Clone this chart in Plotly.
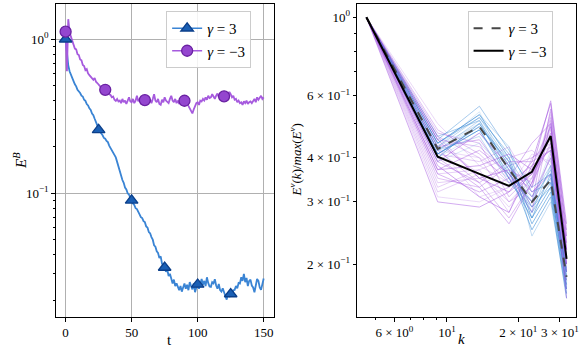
import plotly.graph_objects as go

# ---------------- Left panel data ----------------
t_vals = list(range(0, 151))

eb_gamma_pos = [
    1.0, 0.78, 0.68, 0.62, 0.585, 0.55, 0.535, 0.51, 0.495, 0.47,
    0.462, 0.448, 0.43, 0.425, 0.405, 0.398, 0.38, 0.372, 0.356, 0.348,
    0.33, 0.322, 0.305, 0.292, 0.276, 0.258, 0.252, 0.243, 0.238, 0.229,
    0.226, 0.219, 0.215, 0.204, 0.197, 0.189, 0.186, 0.179, 0.171, 0.16,
    0.149, 0.137, 0.131, 0.122, 0.117, 0.109, 0.106, 0.1, 0.098, 0.093,
    0.09, 0.086, 0.084, 0.08, 0.079, 0.075, 0.073, 0.07, 0.069, 0.066,
    0.065, 0.061, 0.06, 0.056, 0.055, 0.052, 0.05, 0.046, 0.045, 0.042,
    0.041, 0.038, 0.039, 0.035, 0.034, 0.033, 0.031, 0.032, 0.029, 0.03,
    0.028, 0.026, 0.0275, 0.025, 0.026, 0.0245, 0.0235, 0.025, 0.023, 0.0245,
    0.026, 0.024, 0.0255, 0.0235, 0.0265, 0.025, 0.0238, 0.026, 0.0228, 0.0245,
    0.0256, 0.024, 0.0262, 0.0278, 0.0255, 0.027, 0.025, 0.0285, 0.0262, 0.0248,
    0.0247, 0.0265, 0.026, 0.0277, 0.0252, 0.024, 0.0258, 0.0235, 0.023, 0.0242,
    0.0228, 0.0215, 0.0204, 0.0225, 0.0212, 0.0222, 0.0215, 0.0235, 0.0236, 0.025,
    0.0242, 0.0262, 0.026, 0.0285, 0.027, 0.03, 0.0265, 0.0282, 0.025, 0.027,
    0.0275, 0.0252, 0.0245, 0.0228, 0.026, 0.0278, 0.027, 0.0245, 0.0236, 0.026,
    0.028,
]

eb_gamma_neg = [
    1.12, 0.62, 1.35, 1.12, 1.04, 0.97, 0.93, 0.87, 0.86, 0.8,
    0.79, 0.74, 0.73, 0.68, 0.67, 0.63, 0.64, 0.6, 0.585, 0.57,
    0.56, 0.545, 0.56, 0.53, 0.52, 0.505, 0.5, 0.485, 0.48, 0.465,
    0.47, 0.46, 0.445, 0.44, 0.435, 0.42, 0.425, 0.405, 0.398, 0.41,
    0.395, 0.4, 0.385, 0.41, 0.39, 0.4, 0.38, 0.405, 0.42, 0.395,
    0.39, 0.41, 0.385, 0.4, 0.43, 0.395, 0.41, 0.38, 0.4, 0.415,
    0.403, 0.39, 0.42, 0.395, 0.405, 0.385, 0.41, 0.44, 0.4, 0.39,
    0.41, 0.38, 0.375, 0.405, 0.39, 0.42, 0.4, 0.395, 0.385, 0.41,
    0.43, 0.4, 0.39, 0.41, 0.385, 0.4, 0.38, 0.39, 0.37, 0.395,
    0.399, 0.38, 0.39, 0.37, 0.355, 0.345, 0.33, 0.35, 0.37, 0.385,
    0.39, 0.375, 0.4, 0.395, 0.41, 0.4, 0.42, 0.405, 0.43, 0.415,
    0.42, 0.44, 0.425, 0.41, 0.43, 0.445, 0.42, 0.43, 0.44, 0.425,
    0.426, 0.44, 0.45, 0.435, 0.455, 0.44, 0.42, 0.43, 0.405, 0.41,
    0.39, 0.4, 0.385, 0.39, 0.375, 0.395, 0.385, 0.4, 0.38, 0.39,
    0.395, 0.385, 0.4, 0.41, 0.39, 0.42, 0.405, 0.415, 0.43, 0.41,
    0.42,
]

marker_t_pos = [0, 25, 50, 75, 100, 125]
marker_t_neg = [0, 30, 60, 90, 120]

left_xticks = [0, 50, 100, 150]
left_yticks = [0.1, 1.0]
left_yticktext = ["10<sup>−1</sup>", "10<sup>0</sup>"]
left_yminor = [0.02, 0.03, 0.04, 0.05, 0.06, 0.07, 0.08, 0.09,
               0.2, 0.3, 0.4, 0.5, 0.6, 0.7, 0.8, 0.9]

# ---------------- Right panel data ----------------
k_vals = [4.57, 9.14, 13.71, 18.28, 22.85, 27.42, 31.99]

spec_pos_runs = [
    [1, 0.42, 0.50, 0.38, 0.29, 0.35, 0.18],
    [1, 0.43, 0.52, 0.39, 0.28, 0.34, 0.17],
    [1, 0.41, 0.48, 0.36, 0.30, 0.37, 0.19],
    [1, 0.44, 0.53, 0.40, 0.27, 0.33, 0.175],
    [1, 0.40, 0.47, 0.37, 0.31, 0.36, 0.185],
    [1, 0.42, 0.51, 0.35, 0.28, 0.38, 0.17],
    [1, 0.45, 0.56, 0.42, 0.32, 0.34, 0.19],
    [1, 0.41, 0.49, 0.39, 0.26, 0.32, 0.165],
    [1, 0.43, 0.50, 0.38, 0.30, 0.40, 0.18],
    [1, 0.42, 0.46, 0.34, 0.29, 0.35, 0.175],
    [1, 0.44, 0.52, 0.41, 0.33, 0.36, 0.19],
    [1, 0.40, 0.50, 0.37, 0.25, 0.31, 0.16],
    [1, 0.43, 0.54, 0.36, 0.28, 0.34, 0.18],
    [1, 0.42, 0.49, 0.40, 0.31, 0.38, 0.195],
    [1, 0.46, 0.51, 0.38, 0.29, 0.33, 0.17],
    [1, 0.41, 0.48, 0.35, 0.27, 0.36, 0.185],
    [1, 0.39, 0.44, 0.36, 0.30, 0.42, 0.20],
    [1, 0.44, 0.53, 0.43, 0.24, 0.30, 0.165],
]

spec_neg_runs = [
    [1, 0.40, 0.36, 0.33, 0.36, 0.46, 0.21],
    [1, 0.46, 0.40, 0.30, 0.33, 0.50, 0.22],
    [1, 0.35, 0.33, 0.38, 0.40, 0.44, 0.19],
    [1, 0.43, 0.45, 0.35, 0.30, 0.55, 0.24],
    [1, 0.38, 0.31, 0.28, 0.38, 0.42, 0.20],
    [1, 0.50, 0.38, 0.34, 0.35, 0.48, 0.23],
    [1, 0.33, 0.37, 0.40, 0.42, 0.38, 0.18],
    [1, 0.42, 0.34, 0.27, 0.34, 0.52, 0.22],
    [1, 0.37, 0.42, 0.36, 0.31, 0.40, 0.20],
    [1, 0.45, 0.35, 0.32, 0.39, 0.57, 0.25],
    [1, 0.31, 0.30, 0.33, 0.37, 0.45, 0.21],
    [1, 0.41, 0.39, 0.43, 0.33, 0.47, 0.19],
    [1, 0.47, 0.44, 0.31, 0.36, 0.43, 0.23],
    [1, 0.36, 0.32, 0.35, 0.44, 0.50, 0.20],
    [1, 0.39, 0.47, 0.38, 0.32, 0.36, 0.17],
    [1, 0.44, 0.36, 0.29, 0.35, 0.53, 0.24],
    [1, 0.34, 0.35, 0.37, 0.29, 0.41, 0.19],
    [1, 0.48, 0.41, 0.34, 0.38, 0.49, 0.22],
    [1, 0.40, 0.33, 0.26, 0.34, 0.44, 0.21],
    [1, 0.37, 0.38, 0.41, 0.37, 0.58, 0.26],
    [1, 0.43, 0.31, 0.33, 0.41, 0.39, 0.18],
    [1, 0.32, 0.36, 0.30, 0.35, 0.47, 0.22],
    [1, 0.45, 0.43, 0.36, 0.28, 0.51, 0.23],
    [1, 0.39, 0.34, 0.39, 0.39, 0.42, 0.20],
    [1, 0.30, 0.29, 0.32, 0.36, 0.46, 0.16],
    [1, 0.42, 0.40, 0.35, 0.33, 0.54, 0.24],
    [1, 0.36, 0.37, 0.28, 0.40, 0.43, 0.21],
    [1, 0.46, 0.35, 0.37, 0.34, 0.49, 0.22],
]

spec_pos_mean = [1.0, 0.424, 0.49, 0.372, 0.30, 0.346, 0.184]
spec_neg_mean = [1.0, 0.403, 0.36, 0.333, 0.365, 0.461, 0.207]

right_xticks = [6, 10, 20, 30]
right_xticktext = ["6 × 10<sup>0</sup>", "10<sup>1</sup>", "2 × 10<sup>1</sup>", "3 × 10<sup>1</sup>"]
right_xminor = [5, 7, 8, 9]
right_yticks = [0.2, 0.3, 0.4, 0.6, 1.0]
right_yticktext = ["2 × 10<sup>−1</sup>", "3 × 10<sup>−1</sup>", "4 × 10<sup>−1</sup>",
                   "6 × 10<sup>−1</sup>", "10<sup>0</sup>"]
right_yminor = [0.5, 0.7, 0.8, 0.9]

legend_labels = ["<i>γ</i> = 3", "<i>γ</i> = −3"]

# ---------------- Styles ----------------
FONT = "Liberation Serif, Times New Roman, DejaVu Serif, serif"
BLUE_LINE = "#3a84d4"
BLUE_FILL = "#1a5fb4"
BLUE_EDGE = "#0b3f8a"
PURP_LINE = "#a65ade"
PURP_FILL = "#9446cf"
PURP_EDGE = "#6a22a2"

W, H = 585, 360


def px(x):
    return x / W


def py(y):
    return 1 - y / H


fig = go.Figure()

# Left panel lines
fig.add_trace(go.Scatter(x=t_vals, y=eb_gamma_pos, mode="lines",
                         line=dict(color=BLUE_LINE, width=1.8),
                         showlegend=False, xaxis="x", yaxis="y", hoverinfo="skip"))
fig.add_trace(go.Scatter(x=t_vals, y=eb_gamma_neg, mode="lines",
                         line=dict(color=PURP_LINE, width=1.8),
                         showlegend=False, xaxis="x", yaxis="y", hoverinfo="skip"))
fig.add_trace(go.Scatter(x=marker_t_pos, y=[eb_gamma_pos[t] for t in marker_t_pos],
                         mode="markers",
                         marker=dict(symbol="triangle-up", size=11, color=BLUE_FILL,
                                     line=dict(color=BLUE_EDGE, width=1.3)),
                         showlegend=False, xaxis="x", yaxis="y"))
fig.add_trace(go.Scatter(x=marker_t_neg, y=[eb_gamma_neg[t] for t in marker_t_neg],
                         mode="markers",
                         marker=dict(symbol="circle", size=11, color=PURP_FILL,
                                     line=dict(color=PURP_EDGE, width=1.3)),
                         showlegend=False, xaxis="x", yaxis="y"))
# legend entries left
fig.add_trace(go.Scatter(x=[None], y=[None], mode="lines+markers", name=legend_labels[0],
                         line=dict(color=BLUE_LINE, width=1.6),
                         marker=dict(symbol="triangle-up", size=11, color=BLUE_FILL,
                                     line=dict(color=BLUE_EDGE, width=1.3)),
                         legend="legend", xaxis="x", yaxis="y"))
fig.add_trace(go.Scatter(x=[None], y=[None], mode="lines+markers", name=legend_labels[1],
                         line=dict(color=PURP_LINE, width=1.6),
                         marker=dict(symbol="circle", size=11, color=PURP_FILL,
                                     line=dict(color=PURP_EDGE, width=1.3)),
                         legend="legend", xaxis="x", yaxis="y"))

# Right panel thin lines (interleaved)
n_pos = len(spec_pos_runs)
n_neg = len(spec_neg_runs)
for i in range(max(n_pos, n_neg)):
    if i < n_neg:
        fig.add_trace(go.Scatter(x=k_vals, y=spec_neg_runs[i], mode="lines",
                                 line=dict(color="#a24fe0", width=0.9),
                                 opacity=0.22 + 0.3 * (i % 5) / 4,
                                 showlegend=False, xaxis="x2", yaxis="y2", hoverinfo="skip"))
    if i < n_pos:
        fig.add_trace(go.Scatter(x=k_vals, y=spec_pos_runs[i], mode="lines",
                                 line=dict(color="#3a8ad6", width=0.9),
                                 opacity=0.2 + 0.4 * (i % 4) / 3,
                                 showlegend=False, xaxis="x2", yaxis="y2", hoverinfo="skip"))

fig.add_trace(go.Scatter(x=k_vals, y=spec_pos_mean, mode="lines", name=legend_labels[0],
                         line=dict(color="#474747", width=2, dash="dash"),
                         legend="legend2", xaxis="x2", yaxis="y2"))
fig.add_trace(go.Scatter(x=k_vals, y=spec_neg_mean, mode="lines", name=legend_labels[1],
                         line=dict(color="#000000", width=2),
                         legend="legend2", xaxis="x2", yaxis="y2"))

axis_common = dict(showline=True, mirror=True, linecolor="black", linewidth=1,
                   ticks="outside", ticklen=3.5, tickwidth=0.8, tickcolor="black",
                   zeroline=False, tickfont=dict(family=FONT, size=13, color="black"))

fig.update_layout(
    width=W, height=H,
    margin=dict(l=0, r=0, t=0, b=0),
    paper_bgcolor="white", plot_bgcolor="white",
    font=dict(family=FONT, color="black"),
    xaxis=dict(domain=[px(56), px(275)], range=[-7.5, 157.5], anchor="y",
               tickmode="array", tickvals=left_xticks,
               showgrid=True, gridcolor="#b0b0b0", gridwidth=0.8, **axis_common),
    yaxis=dict(domain=[py(317), py(4)], type="log", range=[-1.803, 0.229], anchor="x",
               tickmode="array", tickvals=left_yticks, ticktext=left_yticktext,
               showgrid=True, gridcolor="#b0b0b0", gridwidth=0.8,
               minor=dict(tickmode="array", tickvals=left_yminor, ticks="outside",
                          ticklen=2, tickwidth=0.6, tickcolor="black", showgrid=False),
               **axis_common),
    xaxis2=dict(domain=[px(359), px(579)], type="log", range=[0.621, 1.545], anchor="y2",
                tickmode="array", tickvals=right_xticks, ticktext=right_xticktext,
                showgrid=False,
                minor=dict(tickmode="array", tickvals=right_xminor, ticks="outside",
                           ticklen=2, tickwidth=0.6, tickcolor="black", showgrid=False),
                **axis_common),
    yaxis2=dict(domain=[py(317), py(4)], type="log", range=[-0.849, 0.0377], anchor="x2",
                tickmode="array", tickvals=right_yticks, ticktext=right_yticktext,
                showgrid=False,
                minor=dict(tickmode="array", tickvals=right_yminor, ticks="outside",
                           ticklen=2, tickwidth=0.6, tickcolor="black", showgrid=False),
                **axis_common),
    legend=dict(x=px(167), y=py(11), xanchor="left", yanchor="top",
                bgcolor="rgba(255,255,255,0.85)", bordercolor="#cccccc", borderwidth=1,
                font=dict(family=FONT, size=15, color="black"), itemwidth=30,
                tracegroupgap=2),
    legend2=dict(x=px(470), y=py(11), xanchor="left", yanchor="top",
                 bgcolor="rgba(255,255,255,0.85)", bordercolor="#cccccc", borderwidth=1,
                 font=dict(family=FONT, size=15, color="black"), itemwidth=30,
                 tracegroupgap=2),
    annotations=[
        dict(text="t", x=px(165.5), y=py(350), xref="paper", yref="paper",
             showarrow=False, font=dict(family=FONT, size=15, color="black")),
        dict(text="<i>k</i>", x=px(469), y=py(349), xref="paper", yref="paper",
             showarrow=False, font=dict(family=FONT, size=15, color="black")),
        dict(text="<i>E</i><sup><i>B</i></sup>", x=px(9), y=py(160), xref="paper", yref="paper",
             showarrow=False, textangle=-90, font=dict(family=FONT, size=15, color="black")),
        dict(text="<i>E</i><sup><i>v</i></sup>(<i>k</i>)/<i>max</i>(<i>E</i><sup><i>v</i></sup>)",
             x=px(297), y=py(160), xref="paper", yref="paper",
             showarrow=False, textangle=-90, font=dict(family=FONT, size=13, color="black")),
    ],
)

fig.write_html("out.html", config={"displayModeBar": False},
               post_script="document.body.style.margin='0';")
